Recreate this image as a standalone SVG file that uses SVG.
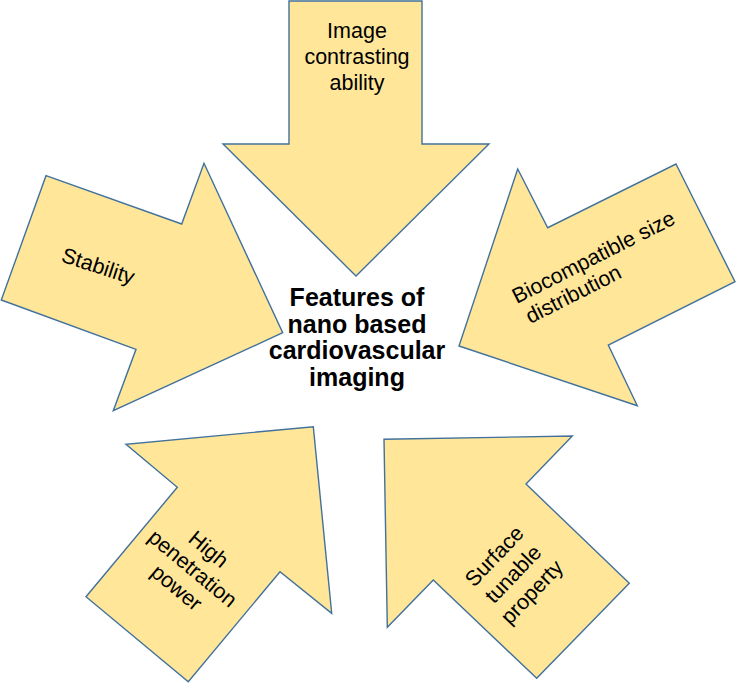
<svg xmlns="http://www.w3.org/2000/svg" width="737" height="683" viewBox="0 0 737 683">
<style>
.arrow{fill:#FFE699;stroke:#41719C;stroke-width:1.4;stroke-linejoin:miter}
.lbl{font-family:"Liberation Sans",Arial,sans-serif;font-size:21.5px;fill:#000}
.ctr{font-family:"Liberation Sans",Arial,sans-serif;font-size:25px;font-weight:bold;fill:#000;text-anchor:middle}
</style>
<rect width="737" height="683" fill="#fff"/>
<g id="arrow-image">
<polygon class="arrow" points="289,1 422,1 422,144 489,144 356,276 223,144 289,144"/>
<text class="lbl" text-anchor="middle" x="357" y="38">Image</text>
<text class="lbl" text-anchor="middle" x="357" y="64">contrasting</text>
<text class="lbl" text-anchor="middle" x="357" y="90">ability</text>
</g>
<g id="arrow-stability">
<polygon class="arrow" points="46,175.7 181.7,224 204,163.3 282.7,332.7 113.3,410.7 136,349.3 1.3,300"/>
<text class="lbl" text-anchor="middle" transform="translate(96,273) rotate(18)">Stability</text>
</g>
<g id="arrow-biocompatible">
<polygon class="arrow" points="676,164 735,281.7 608.3,345 637.3,405.7 459,346 517.7,169 547.7,227.7"/>
<g transform="translate(516.7,304) rotate(-26.8)">
<text class="lbl" x="0" y="0">Biocompatible size</text>
<text class="lbl" x="3" y="24">distribution</text>
</g>
</g>
<g id="arrow-penetration">
<polygon class="arrow" points="313.3,426.7 331.7,613.3 280,571.7 188.3,681.7 86,596.7 177.3,487.3 126,444.3"/>
<g transform="translate(188,574) rotate(39.8)">
<text class="lbl" text-anchor="middle" x="0" y="-25">High</text>
<text class="lbl" text-anchor="middle" x="0" y="0">penetration</text>
<text class="lbl" text-anchor="middle" x="0" y="25">power</text>
</g>
</g>
<g id="arrow-surface">
<polygon class="arrow" points="384,439.3 572.3,436 526,484 629.3,583.3 536.7,678.3 433.3,580 387.3,627.3"/>
<g transform="translate(518.3,579.1) rotate(-46.3)">
<text class="lbl" text-anchor="middle" x="0" y="-26">Surface</text>
<text class="lbl" text-anchor="middle" x="0" y="0">tunable</text>
<text class="lbl" text-anchor="middle" x="0" y="26">property</text>
</g>
</g>
<g id="center">
<text class="ctr" x="357" y="306">Features of</text>
<text class="ctr" x="357" y="332.5">nano based</text>
<text class="ctr" x="357" y="359">cardiovascular</text>
<text class="ctr" x="357" y="385.5">imaging</text>
</g>
<g id="connectors"/>
</svg>
